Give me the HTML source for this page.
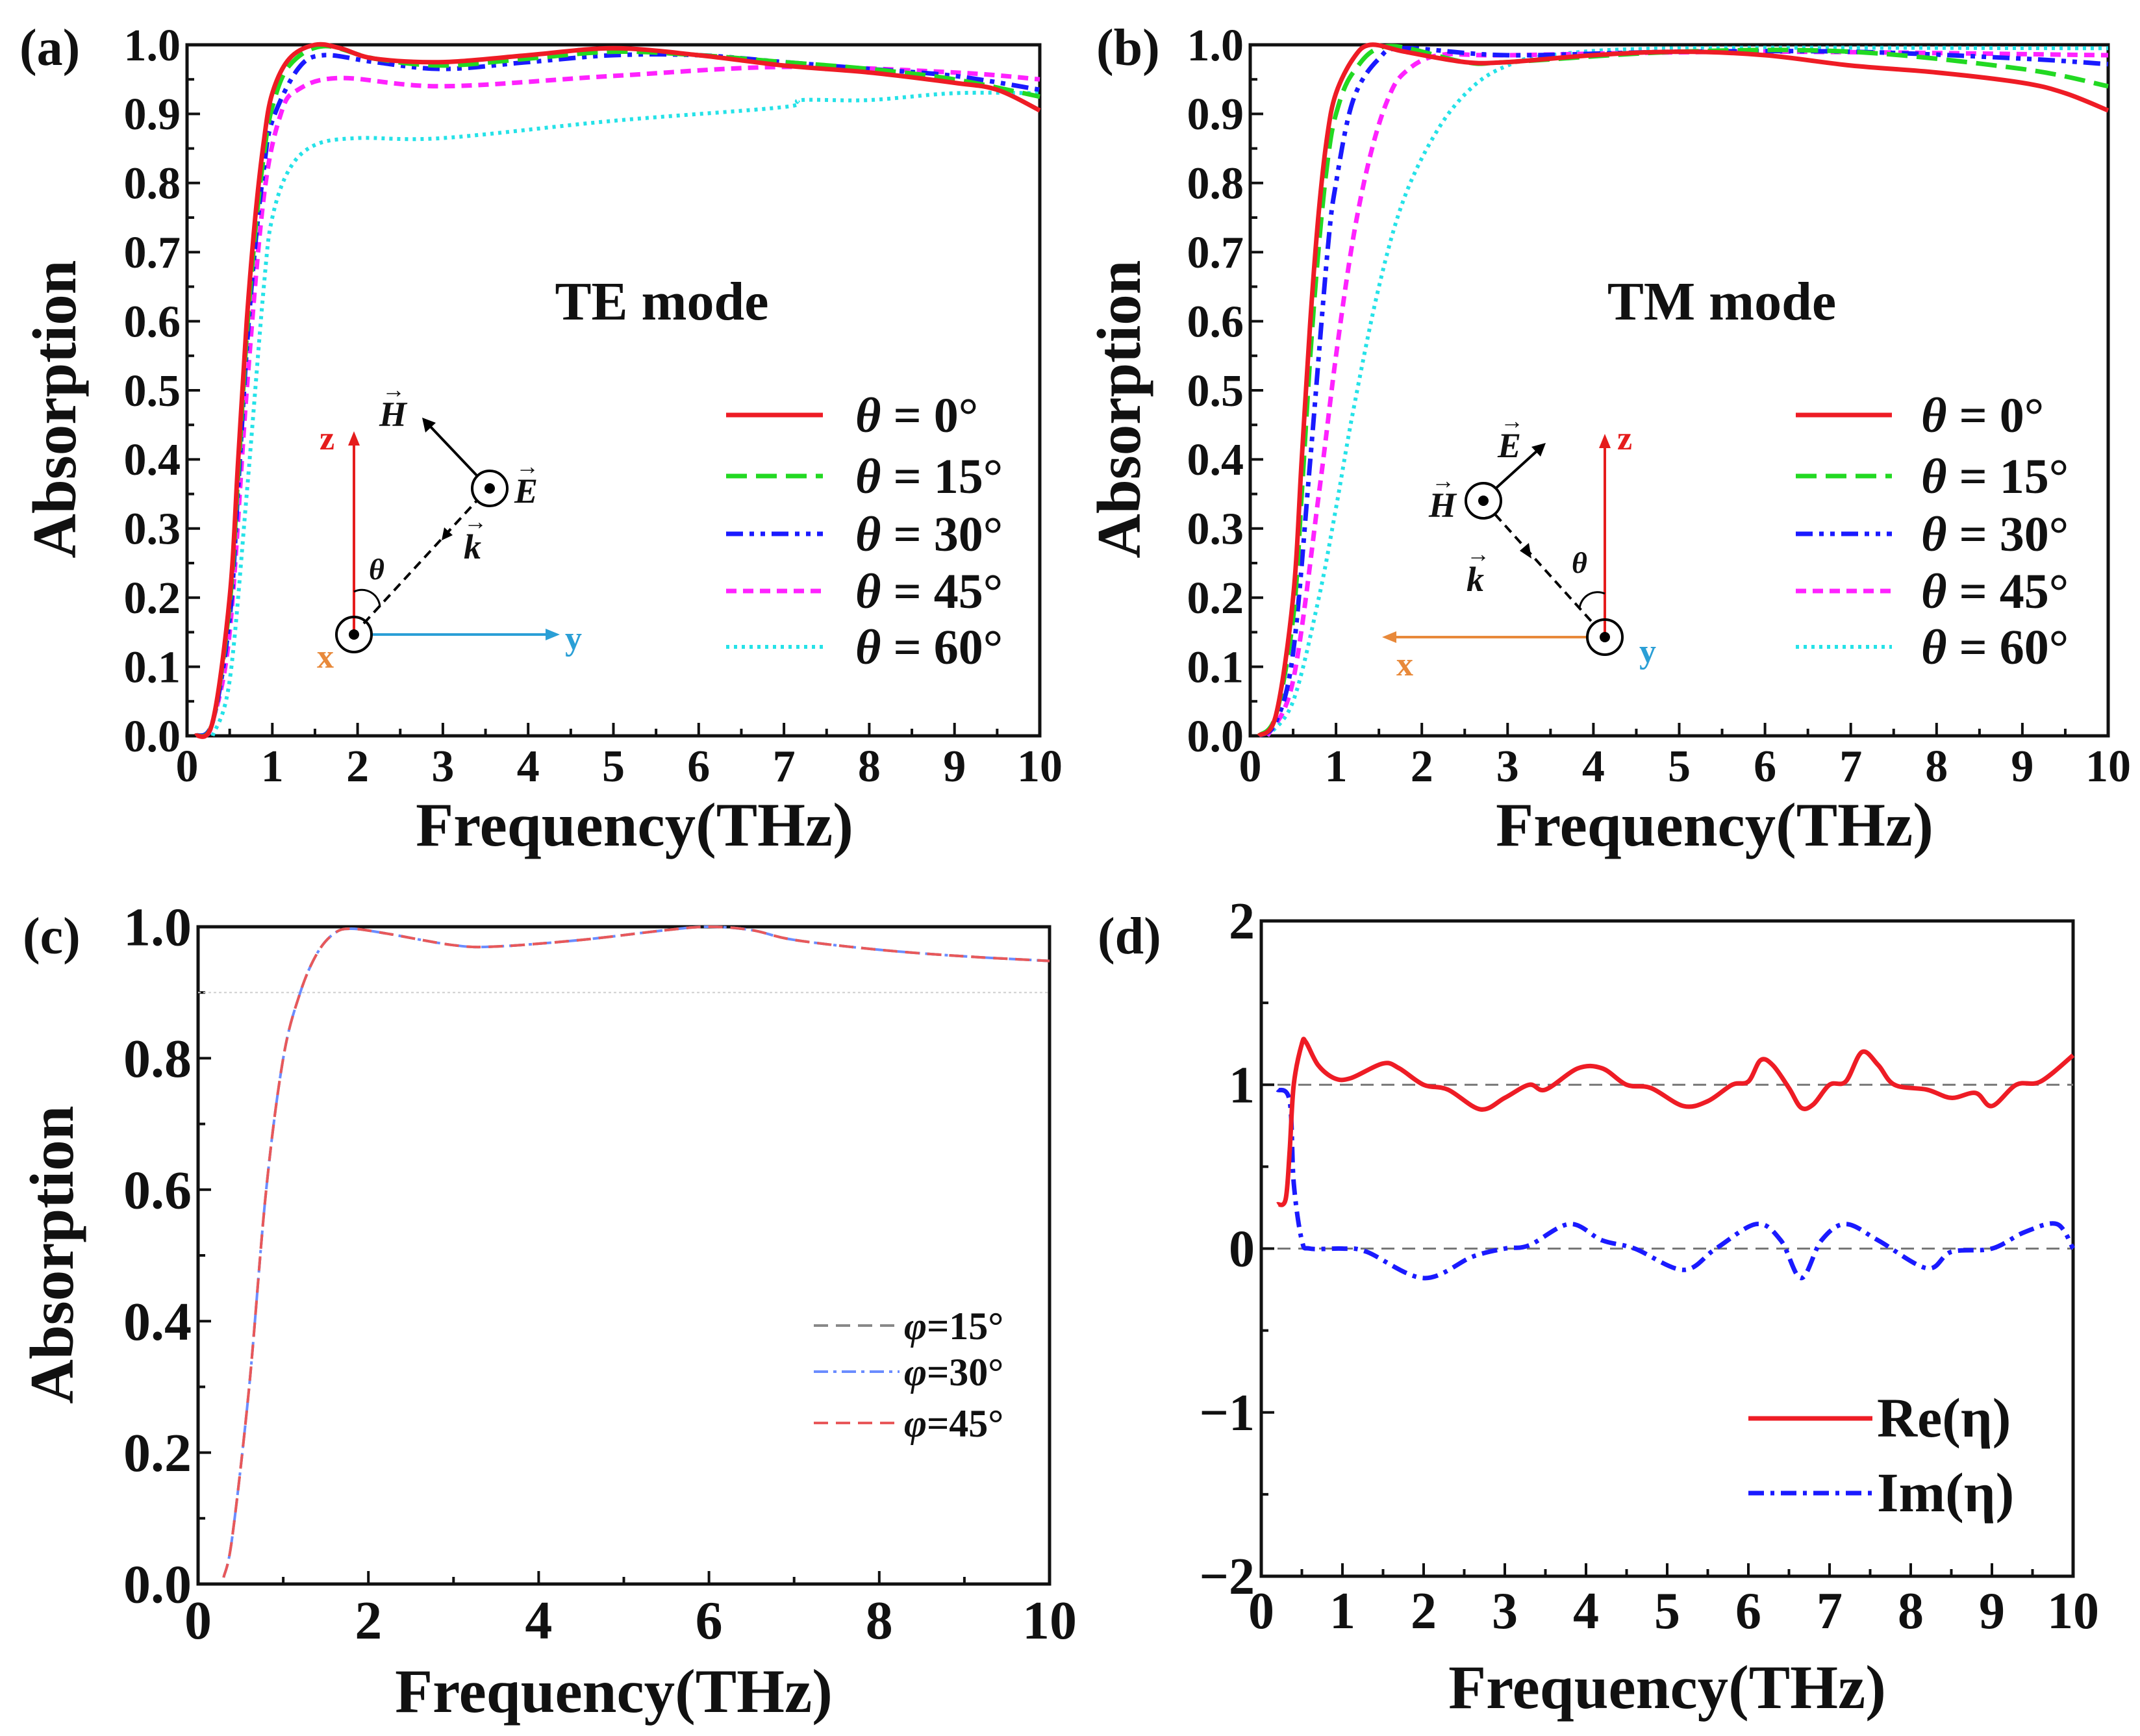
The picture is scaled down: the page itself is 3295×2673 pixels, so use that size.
<!DOCTYPE html>
<html><head><meta charset="utf-8">
<style>
html,body{margin:0;padding:0;background:#fff;}
svg{display:block;}
text{font-family:"Liberation Serif",serif;font-weight:bold;fill:#111;}
</style></head>
<body>
<svg id="fig" width="3295" height="2673" viewBox="0 0 3295 2673" xmlns="http://www.w3.org/2000/svg">
<rect width="3295" height="2673" fill="#fff"/>
<g id="gA"></g>
<g id="gB"></g>
<g id="gC"></g>
<g id="gD"></g>

<!-- panel labels -->
<text x="30" y="100" font-size="80">(a)</text>
<text x="1688" y="100" font-size="80">(b)</text>
<text x="35" y="1468" font-size="80">(c)</text>
<text x="1690" y="1468" font-size="80">(d)</text>

<text x="1019" y="492" font-size="84" text-anchor="middle">TE mode</text>
<text x="2651" y="492" font-size="84" text-anchor="middle">TM mode</text>

<!-- inset diagram a -->
<g>
  <line x1="545" y1="977" x2="545" y2="680" stroke="#e51c1c" stroke-width="4"/>
  <polygon points="545,664 536,686 554,686" fill="#e51c1c"/>
  <text x="492" y="692" font-size="52" style="fill:#e51c1c">z</text>
  <line x1="570" y1="977" x2="845" y2="977" stroke="#2a9fd6" stroke-width="4"/>
  <polygon points="862,977 840,968 840,986" fill="#2a9fd6"/>
  <text x="870" y="1000" font-size="52" style="fill:#2a9fd6">y</text>
  <text x="488" y="1028" font-size="52" style="fill:#e8893a">x</text>
  <circle cx="545" cy="977" r="27" fill="none" stroke="#000" stroke-width="4"/>
  <circle cx="545" cy="977" r="8" fill="#000"/>
  <line x1="560" y1="960" x2="735" y2="770" stroke="#000" stroke-width="4" stroke-dasharray="14,9"/>
  <polygon points="680,832 684,812 697,824" fill="#000"/>
  <circle cx="754" cy="752" r="27" fill="none" stroke="#000" stroke-width="4"/>
  <circle cx="754" cy="752" r="8" fill="#000"/>
  <line x1="734" y1="732" x2="660" y2="654" stroke="#000" stroke-width="4"/>
  <polygon points="650,643 655,666 671,651" fill="#000"/>
  <path d="M545,911 A28,28 0 0 1 585,935" fill="none" stroke="#000" stroke-width="3"/>
  <text x="568" y="892" font-size="46" font-style="italic">θ</text>
  <text x="584" y="656" font-size="54" font-style="italic">H</text>
  <text x="588" y="612" font-size="36">→</text>
  <text x="792" y="774" font-size="54" font-style="italic">E</text>
  <text x="794" y="730" font-size="36">→</text>
  <text x="714" y="860" font-size="54" font-style="italic">k</text>
  <text x="714" y="815" font-size="36">→</text>
</g>

<!-- inset diagram b -->
<g>
  <line x1="2471" y1="981" x2="2471" y2="684" stroke="#e51c1c" stroke-width="4"/>
  <polygon points="2471,668 2462,690 2480,690" fill="#e51c1c"/>
  <text x="2490" y="692" font-size="52" style="fill:#e51c1c">z</text>
  <line x1="2445" y1="981" x2="2145" y2="981" stroke="#e8893a" stroke-width="4"/>
  <polygon points="2128,981 2150,972 2150,990" fill="#e8893a"/>
  <text x="2150" y="1040" font-size="52" style="fill:#e8893a">x</text>
  <text x="2524" y="1020" font-size="52" style="fill:#2a9fd6">y</text>
  <circle cx="2471" cy="981" r="27" fill="none" stroke="#000" stroke-width="4"/>
  <circle cx="2471" cy="981" r="8" fill="#000"/>
  <line x1="2302" y1="792" x2="2455" y2="962" stroke="#000" stroke-width="4" stroke-dasharray="14,9"/>
  <polygon points="2358,860 2340,848 2354,836" fill="#000"/>
  <circle cx="2284" cy="771" r="27" fill="none" stroke="#000" stroke-width="4"/>
  <circle cx="2284" cy="771" r="8" fill="#000"/>
  <line x1="2303" y1="752" x2="2368" y2="693" stroke="#000" stroke-width="4"/>
  <polygon points="2380,682 2358,688 2372,703" fill="#000"/>
  <path d="M2471,914 A28,28 0 0 0 2432,937" fill="none" stroke="#000" stroke-width="3"/>
  <text x="2420" y="882" font-size="46" font-style="italic">θ</text>
  <text x="2200" y="796" font-size="54" font-style="italic">H</text>
  <text x="2204" y="752" font-size="36">→</text>
  <text x="2306" y="704" font-size="54" font-style="italic">E</text>
  <text x="2310" y="660" font-size="36">→</text>
  <text x="2258" y="910" font-size="54" font-style="italic">k</text>
  <text x="2258" y="865" font-size="36">→</text>
</g>
</svg>
<script>
// ---------- data ----------
const aX0=[0.1,0.3,0.5,0.6,0.7,0.8,0.9,1.0,1.2,1.5,1.8,2.2,3,4,5,6,7,8,9,9.5,10];
const aY0=[0,0.02,0.2,0.4,0.6,0.75,0.86,0.93,0.98,1.0,0.995,0.98,0.975,0.985,0.995,0.985,0.97,0.96,0.945,0.935,0.905];
const aX15=[0.1,0.3,0.5,0.6,0.7,0.8,0.9,1.0,1.2,1.6,2.2,3,4,5,6,7,8,9,10];
const aY15=[0,0.02,0.19,0.38,0.58,0.73,0.84,0.91,0.97,0.998,0.98,0.97,0.98,0.99,0.985,0.975,0.965,0.95,0.925];
const aX30=[0.1,0.3,0.5,0.6,0.7,0.8,0.9,1.0,1.3,1.6,2.2,3,4,5,6,7,8,9,10];
const aY30=[0,0.02,0.17,0.36,0.56,0.71,0.82,0.89,0.965,0.985,0.975,0.965,0.975,0.985,0.985,0.975,0.965,0.955,0.935];
const aX45=[0.2,0.3,0.5,0.7,0.9,1.1,1.3,1.8,3,5,7,9,10];
const aY45=[0,0.02,0.15,0.5,0.78,0.9,0.935,0.952,0.94,0.955,0.968,0.96,0.95];
const aX60=[0.3,0.5,0.7,0.9,1.0,1.2,1.5,2,3,5,7,7.2,8,9,10];
const aY60=[0,0.08,0.35,0.65,0.75,0.82,0.855,0.865,0.865,0.89,0.91,0.92,0.92,0.93,0.93];

const bX0=[0.1,0.3,0.5,0.6,0.7,0.8,0.9,1.0,1.2,1.4,1.8,2.5,3,4,5,6,7,8,9,9.5,10];
const bY0=[0,0.03,0.2,0.4,0.6,0.76,0.87,0.93,0.98,1.0,0.99,0.975,0.975,0.985,0.99,0.985,0.97,0.96,0.945,0.93,0.905];
const bX15=[0.1,0.3,0.5,0.6,0.7,0.8,0.9,1.0,1.2,1.6,2.5,3,5,7,9,10];
const bY15=[0,0.03,0.17,0.35,0.55,0.71,0.83,0.9,0.96,0.998,0.975,0.975,0.99,0.99,0.965,0.94];
const bX30=[0.1,0.3,0.5,0.7,0.9,1.0,1.2,1.5,1.8,3,5,7,9,10];
const bY30=[0,0.02,0.12,0.4,0.7,0.8,0.92,0.98,0.995,0.985,0.99,0.99,0.98,0.972];
const bX45=[0.2,0.5,0.8,1.0,1.2,1.4,1.6,1.8,2.2,3,6,10];
const bY45=[0,0.08,0.35,0.55,0.72,0.84,0.92,0.96,0.985,0.985,0.99,0.985];
const bX60=[0.2,0.5,0.8,1.0,1.2,1.5,1.8,2.2,2.6,3.0,3.5,5,10];
const bY60=[0,0.05,0.2,0.33,0.47,0.65,0.78,0.88,0.94,0.97,0.985,0.995,0.995];

const cX=[0.3,0.4,0.6,0.8,1.0,1.2,1.4,1.6,1.8,2.2,3,3.5,4.5,5.5,6,6.5,7,8,9,10];
const cY=[0.01,0.07,0.3,0.6,0.8,0.9,0.96,0.99,0.997,0.99,0.972,0.97,0.98,0.995,1.0,0.995,0.98,0.965,0.955,0.948];

const dReX=[0.2,0.3,0.35,0.4,0.5,0.55,0.7,0.9,1.1,1.5,1.7,2,2.3,2.7,3.0,3.3,3.5,3.9,4.2,4.5,4.8,5.2,5.5,5.8,6.0,6.15,6.3,6.5,6.65,6.8,7.0,7.2,7.4,7.6,7.8,8.2,8.5,8.8,9.0,9.3,9.6,10];
const dReY=[0.27,0.3,0.6,1.0,1.25,1.26,1.12,1.04,1.04,1.13,1.1,1.0,0.97,0.85,0.92,1.0,0.97,1.1,1.1,1.0,0.98,0.87,0.9,1.0,1.02,1.15,1.12,0.98,0.86,0.88,1.0,1.02,1.2,1.12,1.0,0.97,0.92,0.95,0.87,1.0,1.02,1.18];
const dImX=[0.2,0.35,0.4,0.5,0.6,1.0,1.3,2.0,2.6,3.0,3.3,3.8,4.2,4.6,5.2,5.6,6.1,6.4,6.65,6.9,7.2,7.6,8.2,8.5,9.0,9.4,9.8,10];
const dImY=[0.97,0.9,0.4,0.05,0.0,0.0,-0.02,-0.18,-0.05,0.0,0.02,0.15,0.05,0.0,-0.13,0.0,0.15,0.05,-0.18,0.05,0.15,0.05,-0.12,-0.02,0.0,0.1,0.15,0.0];

const abTicksY=["0.0","0.1","0.2","0.3","0.4","0.5","0.6","0.7","0.8","0.9","1.0"];
const abTicksX=["0","1","2","3","4","5","6","7","8","9","10"];
const cTicksY=["0.0","0.2","0.4","0.6","0.8","1.0"];
const cTicksX=["0","2","4","6","8","10"];
const dTicksY=["-2","-1","0","1","2"];
const legendLabelsTheta=["0°","15°","30°","45°","60°"];
const legendLabelsPhi=["15°","30°","45°"];

// ---------- helpers ----------
const NS="http://www.w3.org/2000/svg";
function mk(parent,tag,attrs){const e=document.createElementNS(NS,tag);for(const k in attrs)e.setAttribute(k,attrs[k]);parent.appendChild(e);return e;}
function smoothPath(xs,ys,sx,sy){
  const p=xs.map((x,i)=>[sx(x),sy(ys[i])]);
  let d="M"+p[0][0].toFixed(1)+","+p[0][1].toFixed(1);
  for(let i=0;i<p.length-1;i++){
    const p0=p[Math.max(0,i-1)],p1=p[i],p2=p[i+1],p3=p[Math.min(p.length-1,i+2)];
    const c1=[p1[0]+(p2[0]-p0[0])/6,p1[1]+(p2[1]-p0[1])/6];
    const c2=[p2[0]-(p3[0]-p1[0])/6,p2[1]-(p3[1]-p1[1])/6];
    d+=" C"+c1.map(v=>v.toFixed(1)).join(",")+" "+c2.map(v=>v.toFixed(1)).join(",")+" "+p2[0].toFixed(1)+","+p2[1].toFixed(1);
  }
  return d;
}
function axes(g,c){
  const sx=v=>c.L+(v-c.xmin)/(c.xmax-c.xmin)*(c.R-c.L);
  const sy=v=>c.B-(v-c.ymin)/(c.ymax-c.ymin)*(c.B-c.T);
  for(let v=c.xmin;v<=c.xmax+1e-9;v+=c.xminor){
    const major=Math.abs(Math.round(v/c.xmajor)*c.xmajor-v)<1e-6;
    const t=mk(g,"line",{x1:sx(v),x2:sx(v),y1:c.B,y2:c.B-(major?20:11),stroke:"#111","stroke-width":4});
    
    
  }
  for(let v=c.ymin;v<=c.ymax+1e-9;v+=c.yminor){
    const major=Math.abs(Math.round(v/c.ymajor)*c.ymajor-v)<1e-6;
    const t=mk(g,"line",{x1:c.L,x2:c.L+(major?20:11),y1:sy(v),y2:sy(v),stroke:"#111","stroke-width":4});
    
    
  }
  c.xt.forEach((s,i)=>{
    const t=mk(g,"text",{x:sx(c.xmin+i*c.xmajor),y:c.B+c.fs*1.0,"font-size":c.fs,"text-anchor":"middle"});
    t.textContent=s;
    
    
  });
  c.yt.forEach((s,i)=>{
    const t=mk(g,"text",{x:c.L-10,y:sy(c.ymin+i*c.ymajor)+c.fs*0.34,"font-size":c.fs,"text-anchor":"end"});
    t.textContent=s.replace("-","−");
    
    
  });
  const fr=mk(g,"rect",{x:c.L,y:c.T,width:c.R-c.L,height:c.B-c.T,fill:"none",stroke:"#111","stroke-width":5});
  
  
  const xt=mk(g,"text",{x:c.xtX,y:c.xtY,"font-size":95,"text-anchor":"middle"});
  xt.textContent="Frequency(THz)";
  
  
  if(c.ytX){
    const yt=mk(g,"text",{x:c.ytX,y:c.ytY,"font-size":95,"text-anchor":"middle",transform:`rotate(-90 ${c.ytX} ${c.ytY})`});
    yt.textContent="Absorption";
    
    
  }
  return {sx,sy};
}
const styles=[
  {c:"#ee1c25",d:"none",w:7},
  {c:"#22d922",d:"32,14",w:7},
  {c:"#1a1aff",d:"26,10,7,10,7,10",w:7},
  {c:"#ff22ff",d:"16,10",w:7},
  {c:"#25e2e8",d:"5,7",w:6}
];
function series(g,sc,xs,ys,st,name){
  const p=mk(g,"path",{d:smoothPath(xs,ys,sc.sx,sc.sy),fill:"none",stroke:st.c,"stroke-width":st.w,"stroke-dasharray":st.d,"stroke-linejoin":"round"});
  
  
}
function thetaLegend(g,lx1,lx2,tx,ys){
  legendLabelsTheta.forEach((lab,i)=>{
    const st=styles[i];
    const l=mk(g,"line",{x1:lx1,x2:lx2,y1:ys[i],y2:ys[i],stroke:st.c,"stroke-width":st.w,"stroke-dasharray":st.d});
    
    
    const t=mk(g,"text",{x:tx,y:ys[i]+26,"font-size":76});
    t.innerHTML='<tspan font-style="italic">θ</tspan> = '+lab;
    
    
  });
}

// ---------- panel a ----------
(function(){
  const g=document.getElementById("gA");
  const sc=axes(g,{L:288,R:1601,T:69,B:1133,xmin:0,xmax:10,ymin:0,ymax:1,xmajor:1,xminor:0.5,ymajor:0.1,yminor:0.05,xt:abTicksX,yt:abTicksY,fs:70,xtX:977,xtY:1302,ytX:116,ytY:630});
  series(g,sc,aX60,aY60,styles[4],"te-theta-60");
  series(g,sc,aX45,aY45,styles[3],"te-theta-45");
  series(g,sc,aX30,aY30,styles[2],"te-theta-30");
  series(g,sc,aX15,aY15,styles[1],"te-theta-15");
  series(g,sc,aX0,aY0,styles[0],"te-theta-0");
  thetaLegend(g,1118,1267,1317,[639,733,822,910,996]);
})();
// ---------- panel b ----------
(function(){
  const g=document.getElementById("gB");
  const sc=axes(g,{L:1925,R:3246,T:69,B:1133,xmin:0,xmax:10,ymin:0,ymax:1,xmajor:1,xminor:0.5,ymajor:0.1,yminor:0.05,xt:abTicksX,yt:abTicksY,fs:70,xtX:2640,xtY:1302,ytX:1755,ytY:630});
  series(g,sc,bX60,bY60,styles[4],"tm-theta-60");
  series(g,sc,bX45,bY45,styles[3],"tm-theta-45");
  series(g,sc,bX30,bY30,styles[2],"tm-theta-30");
  series(g,sc,bX15,bY15,styles[1],"tm-theta-15");
  series(g,sc,bX0,bY0,styles[0],"tm-theta-0");
  thetaLegend(g,2765,2913,2958,[639,733,822,910,996]);
})();
// ---------- panel c ----------
(function(){
  const g=document.getElementById("gC");
  const sc=axes(g,{L:305,R:1616,T:1427,B:2439,xmin:0,xmax:10,ymin:0,ymax:1,xmajor:2,xminor:1,ymajor:0.2,yminor:0.1,xt:cTicksX,yt:cTicksY,fs:84,xtX:945,xtY:2636,ytX:112,ytY:1932});
  const ref=mk(g,"line",{x1:sc.sx(0),x2:sc.sx(10),y1:sc.sy(0.9),y2:sc.sy(0.9),stroke:"#cfcfcf","stroke-width":2,"stroke-dasharray":"4,4"});
  
  
  const cs=[{c:"#888",d:"22,12",w:4},{c:"#6a8cff",d:"22,8,5,8",w:4},{c:"#e8585a",d:"22,12",w:4}];
  series(g,sc,cX,cY,cs[0],"phi-15-curve");
  series(g,sc,cX,cY,cs[1],"phi-30-curve");
  series(g,sc,cX,cY,cs[2],"phi-45-curve");
  const ly=[2041,2112,2191];
  legendLabelsPhi.forEach((lab,i)=>{
    const l=mk(g,"line",{x1:1253,x2:1385,y1:ly[i],y2:ly[i],stroke:cs[i].c,"stroke-width":4,"stroke-dasharray":cs[i].d});
    
    
    const t=mk(g,"text",{x:1392,y:ly[i]+21,"font-size":60});
    t.innerHTML='<tspan font-style="italic">φ</tspan>='+lab;
    
    
  });
})();
// ---------- panel d ----------
(function(){
  const g=document.getElementById("gD");
  const sc=axes(g,{L:1942,R:3192,T:1418,B:2427,xmin:0,xmax:10,ymin:-2,ymax:2,xmajor:1,xminor:0.5,ymajor:1,yminor:0.5,xt:abTicksX,yt:dTicksY,fs:80,xtX:2567,xtY:2630});
  [1,0].forEach(v=>{
    const r=mk(g,"line",{x1:sc.sx(0.2),x2:sc.sx(10),y1:sc.sy(v),y2:sc.sy(v),stroke:"#777","stroke-width":3,"stroke-dasharray":"20,12"});
    
    
  });
  series(g,sc,dImX,dImY,{c:"#1a1aff",d:"24,10,6,10",w:7},"im-eta-curve");
  series(g,sc,dReX,dReY,{c:"#ee1c25",d:"none",w:7},"re-eta-curve");
  const lg=[["Re(η)","#ee1c25","none",2184],["Im(η)","#1a1aff","24,10,6,10",2299]];
  lg.forEach(e=>{
    const l=mk(g,"line",{x1:2692,x2:2883,y1:e[3],y2:e[3],stroke:e[1],"stroke-width":7,"stroke-dasharray":e[2]});
    
    
    const t=mk(g,"text",{x:2890,y:e[3]+28,"font-size":86});
    t.textContent=e[0];
    
    
  });
})();
</script>
</body></html>
